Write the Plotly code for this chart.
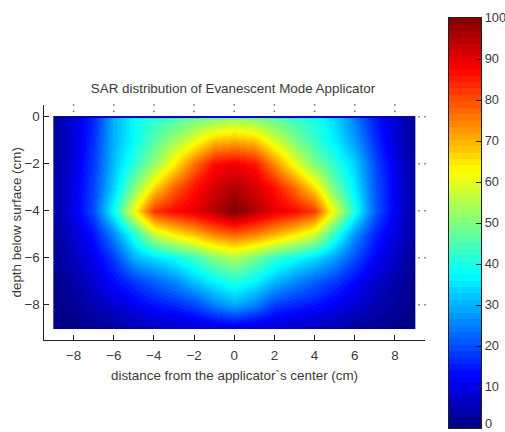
import plotly.graph_objects as go

# ---- data ----
x_cm = [-9, -8.98, -8, -7, -6, -5, -4, -3, -2, -1, 0, 1, 2, 3, 4, 5, 6, 7, 8, 8.98, 9]
depth_cm = [0, -0.06, -1, -2, -3, -4, -5, -6, -7, -8, -8.96, -9]
row_surface = [1, 1, 2, 4, 5, 6, 6, 7, 7, 8, 8, 8, 7, 7, 6, 6, 5, 4, 2, 1, 1]
row_00 = [3, 3, 9, 16, 30, 38, 42, 45, 48, 50, 52, 50, 47, 43, 40, 34, 25, 15, 8, 2, 2]
row_10 = [3, 3, 9, 17, 30, 38, 46, 53, 60, 68, 70, 68, 58, 50, 43, 36, 28, 17, 8, 3, 3]
row_20 = [3, 3, 9, 18, 31, 42, 52, 64, 77, 87, 89, 86, 74, 61, 50, 42, 33, 20, 10, 3, 3]
row_30 = [4, 4, 10, 19, 33, 50, 66, 78, 86, 92, 95, 92, 86, 77, 65, 48, 36, 21, 11, 3, 3]
row_40 = [4, 4, 10, 20, 38, 62, 83, 87, 90, 95, 100, 95, 90, 87, 82, 60, 40, 22, 11, 3, 3]
row_50 = [3, 3, 8, 14, 26, 41, 57, 64, 69, 75, 78, 75, 70, 65, 58, 42, 27, 16, 9, 3, 3]
row_60 = [2, 2, 6, 11, 18, 30, 34, 38, 43, 50, 54, 49, 42, 38, 34, 28, 20, 12, 7, 2, 2]
row_70 = [1, 1, 4, 8, 13, 18, 22, 26, 32, 37, 41, 37, 31, 26, 22, 18, 13, 8, 4, 1, 1]
row_80 = [1, 1, 2, 5, 8, 11, 14, 16, 19, 25, 29, 25, 18, 16, 14, 11, 8, 5, 3, 1, 1]
row_8_96 = [0, 0, 1, 2, 3, 5, 6, 7, 8, 9, 10, 9, 8, 7, 6, 5, 3, 2, 1, 0, 0]
row_90 = [0, 0, 1, 2, 3, 5, 6, 7, 8, 9, 10, 9, 8, 7, 6, 5, 3, 2, 1, 0, 0]
sar = [row_surface, row_00, row_10, row_20, row_30, row_40, row_50, row_60, row_70, row_80, row_8_96, row_90]
x_ticks = [-8, -6, -4, -2, 0, 2, 4, 6, 8]
y_ticks = [0, -2, -4, -6, -8]
bar_ticks = [10, 20, 30, 40, 50, 60, 70, 80, 90, 100]
bar_zero_label = "0"
title_text = "SAR distribution of Evanescent Mode Applicator"
x_label = "distance from the applicator`s center (cm)"
y_label = "depth below surface (cm)"

# ---- MATLAB jet, 64 levels, stepped ----
def jet(t):
    def c(v):
        return int(round(255 * max(0, min(1, v))))
    return f"rgb({c(1.5 - abs(4*t - 3))},{c(1.5 - abs(4*t - 2))},{c(1.5 - abs(4*t - 1))})"

N = 64
scale = []
for i in range(N):
    col = jet((i + 0.5) / N)
    scale.append([i / N, col])
    scale.append([(i + 1) / N, col])

INK = "#3a3a3a"
FONT = dict(family="Liberation Sans", size=13.4, color=INK)
BAR_FONT = dict(family="Liberation Sans", size=12.8, color=INK)
fig = go.Figure()

fig.add_trace(go.Heatmap(x=x_cm, y=depth_cm, z=sar, zmin=0, zmax=100, zsmooth="best",
                         colorscale=scale, showscale=False))

# faint remnants of the top/right ticks
fig.add_trace(go.Scatter(x=[v for v in x_ticks for _ in (0, 1)],
                         y=[0.5, 0.23] * len(x_ticks), mode="markers", cliponaxis=False,
                         marker=dict(symbol="square", size=1.6, color="#777", line_width=0),
                         showlegend=False, hoverinfo="skip"))
fig.add_trace(go.Scatter(x=[9.2, 9.5] * len(y_ticks),
                         y=[v for v in y_ticks for _ in (0, 1)], mode="markers", cliponaxis=False,
                         marker=dict(symbol="square", size=1.6, color="#777", line_width=0),
                         showlegend=False, hoverinfo="skip"))

# colour bar drawn as its own image axis
bar_vals = [(i + 0.5) * 100 / N for i in range(N)]
fig.add_trace(go.Heatmap(x=[0], y=bar_vals, z=[[v] for v in bar_vals], zmin=0, zmax=100,
                         colorscale=scale, showscale=False, xaxis="x2", yaxis="y2"))

axis_common = dict(showgrid=False, zeroline=False, showline=True, linecolor="#222", linewidth=1.3,
                   ticks="inside", ticklen=5, tickcolor="#222", automargin=False)

fig.update_layout(
    width=505, height=432, margin=dict(l=0, r=0, t=0, b=0), autosize=False,
    paper_bgcolor="white", plot_bgcolor="white", showlegend=False,
    xaxis=dict(domain=[43.5 / 505, 425 / 505], range=[-9.5, 9.5], tickvals=x_ticks,
               ticklabelstandoff=3, anchor="y", tickfont=FONT, **axis_common),
    yaxis=dict(domain=[(432 - 340) / 432, (432 - 105) / 432], range=[-9.5, 0.5], tickvals=y_ticks,
               anchor="x", tickfont=FONT, **axis_common),
    xaxis2=dict(domain=[448.5 / 505, 481 / 505], range=[-0.5, 0.5], showticklabels=False,
                showgrid=False, zeroline=False, showline=True, mirror=True, linecolor="#222",
                linewidth=1.3, ticks="", anchor="y2", automargin=False),
    yaxis2=dict(domain=[(432 - 428) / 432, (432 - 18) / 432], range=[0, 100], tickvals=bar_ticks,
                side="right", anchor="x2", mirror=True, tickfont=BAR_FONT, **axis_common),
    title=dict(text=title_text, font=FONT, x=233 / 505, xanchor="center",
               y=1 - 88 / 432, yanchor="middle"),
    annotations=[
        dict(text=bar_zero_label, xref="x2 domain", yref="y2 domain", x=1, y=0,
             xanchor="left", yanchor="bottom", xshift=2, yshift=-5, showarrow=False, font=BAR_FONT),
        dict(text=x_label, xref="x domain", yref="paper", x=0.5, y=(432 - 375) / 432,
             xanchor="center", yanchor="middle", showarrow=False, font=FONT),
        dict(text=y_label, xref="paper", yref="y domain", x=16 / 505, y=0.5, textangle=-90,
             xanchor="center", yanchor="middle", showarrow=False, font=FONT),
    ],
)
fig.write_html("out.html", config=dict(displayModeBar=False),
               post_script="document.body.style.margin='0';")
